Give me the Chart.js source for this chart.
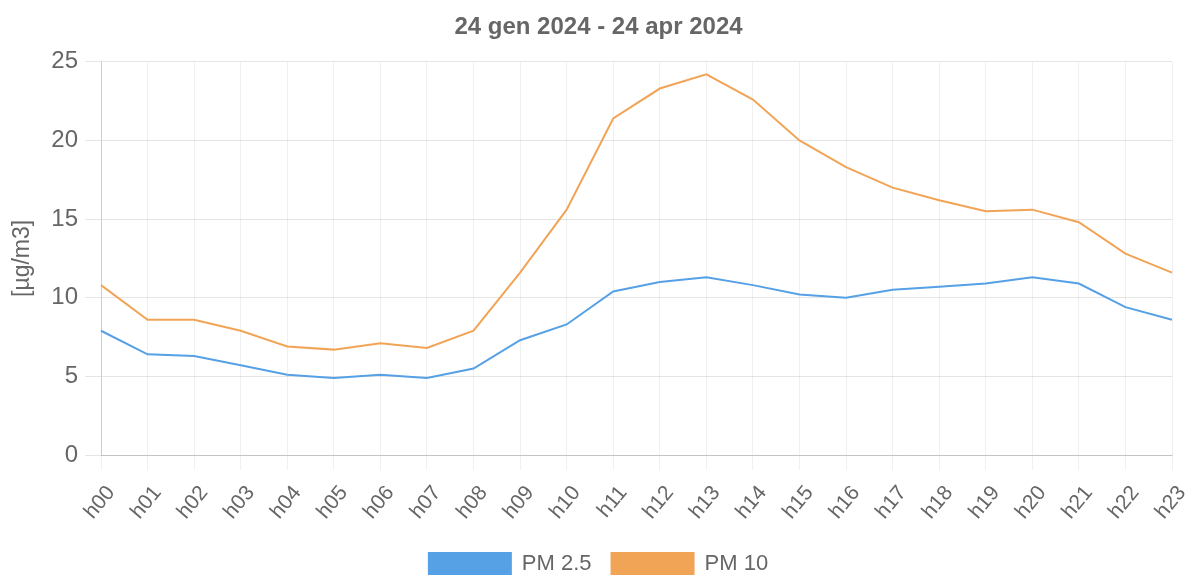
<!DOCTYPE html>
<html>
<head>
<meta charset="utf-8">
<script src="https://cdn.jsdelivr.net/npm/chart.js@4"></script>
<style>
  html, body { margin: 0; padding: 0; background: #fff; overflow: hidden; }
  #wrap { width: 1189px; height: 585px; }
</style>
</head>
<body>
<div id="wrap"><canvas id="chart"></canvas></div>
<script>
const hours = ['h00', 'h01', 'h02', 'h03', 'h04', 'h05', 'h06', 'h07', 'h08', 'h09', 'h10', 'h11',
    'h12', 'h13', 'h14', 'h15', 'h16', 'h17', 'h18', 'h19', 'h20', 'h21', 'h22', 'h23'];
const pm25 = [7.9, 6.4, 6.3, 5.7, 5.1, 4.9, 5.1, 4.9, 5.5, 7.3, 8.3, 10.4,
    11.0, 11.3, 10.8, 10.2, 10.0, 10.5, 10.7, 10.9, 11.3, 10.9, 9.4, 8.6];
const pm10 = [10.8, 8.6, 8.6, 7.9, 6.9, 6.7, 7.1, 6.8, 7.9, 11.6, 15.6, 21.4,
    23.3, 24.2, 22.6, 20.0, 18.3, 17.0, 16.2, 15.5, 15.6, 14.8, 12.8, 11.6];
const yTicks = [0, 5, 10, 15, 20, 25];

const color_blue = 'rgb(86, 160, 230)';
const color_orange = 'rgb(242, 164, 86)';
const font = 'Liberation Sans, Arial, sans-serif';

new Chart(document.getElementById('chart'), {
    type: 'line',
    data: {
        labels: hours,
        datasets: [
            { label: 'PM 2.5', data: pm25, borderColor: color_blue, backgroundColor: color_blue, borderWidth: 2, pointRadius: 0, tension: 0, fill: false },
            { label: 'PM 10', data: pm10, borderColor: color_orange, backgroundColor: color_orange, borderWidth: 2, pointRadius: 0, tension: 0, fill: false },
        ],
    },
    options: {
        responsive: true,
        maintainAspectRatio: false,
        animation: false,
        layout: { padding: { left: 16, right: 8, top: 0, bottom: 0 } },
        plugins: {
            title: {
                display: true,
                text: '24 gen 2024 - 24 apr 2024',
                color: '#666',
                font: { family: font, size: 24, weight: 'bold' },
                padding: { top: 13, bottom: 20 },
            },
            legend: {
                position: 'bottom',
                labels: {
                    boxWidth: 82,
                    boxHeight: 22,
                    color: '#666',
                    font: { family: font, size: 22 },
                    padding: 20,
                },
            },
            tooltip: { enabled: false },
        },
        scales: {
            x: {
                afterFit: (axis) => {
                    axis.height = 78;
                    axis.paddingLeft = 0;
                    axis.paddingRight = 17;
                },
                grid: { color: 'rgba(0,0,0,0.06)', tickLength: 15 },
                border: { color: 'rgba(0,0,0,0.15)' },
                ticks: { color: '#666', font: { family: font, size: 21 }, maxRotation: 50, minRotation: 50, padding: 11, labelOffset: 10 },
            },
            y: {
                min: 0,
                max: 25,
                afterBuildTicks: (axis) => { axis.ticks = yTicks.map((v) => ({ value: v })); },
                afterFit: (axis) => { axis.width = 85; },
                grid: { color: 'rgba(0,0,0,0.1)', tickLength: 16 },
                border: { color: 'rgba(0,0,0,0.15)' },
                ticks: { color: '#666', font: { family: font, size: 24 }, padding: 7 },
                // y title sits further left than the axis box allows, hence the negative padding
                title: { display: true, text: '[µg/m3]', color: '#666', font: { family: font, size: 23 }, padding: { top: -7, bottom: 4 } },
            },
        },
    },
});
</script>
</body>
</html>
